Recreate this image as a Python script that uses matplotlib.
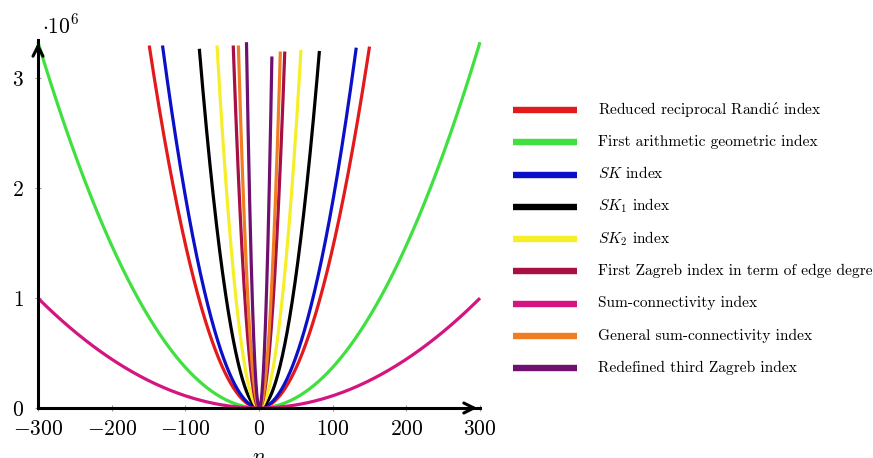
import numpy as np
import matplotlib
matplotlib.use("Agg")
import matplotlib.pyplot as plt
from matplotlib.lines import Line2D

plt.rcParams['font.family'] = ['cmr10', 'DejaVu Serif']
plt.rcParams['mathtext.fontset'] = 'cm'
plt.rcParams['axes.unicode_minus'] = False

# index names and colours, in legend order
labels = [r"Reduced reciprocal Randi$\acute{\mathrm{c}}$ index",
          "First arithmetic geometric index",
          r"$SK$ index",
          r"$SK_1$ index",
          r"$SK_2$ index",
          "First Zagreb index in term of edge degree",
          "Sum-connectivity index",
          "General sum-connectivity index",
          "Redefined third Zagreb index"]
colors = ["#e31a1c", "#3fe03f", "#0b10c8", "#000000", "#f7ee2a",
          "#a70f45", "#d5157f", "#f07d22", "#6e106f"]

# curve end points: n and value (x 10^6)
left_n = [-149, -300, -131, -81, -57, -35, -300, -28, -17]
left_v = [3.30, 3.33, 3.30, 3.27, 3.30, 3.30, 1.00, 3.30, 3.33]
right_n = [150, 300, 132, 82, 57, 35, 300, 29, 17.5]
right_v = [3.29, 3.33, 3.28, 3.25, 3.26, 3.245, 1.00, 3.245, 3.20]

xticks = [-300, -200, -100, 0, 100, 200, 300]
yticks = [0, 1, 2, 3]

W, H = 873, 458
fig = plt.figure(figsize=(W/100, H/100), dpi=100)
ax = fig.add_axes([38/W, 50/H, 442/W, 368/H])

for i in range(len(labels)):
    xl, yl, xr, yr = left_n[i], left_v[i], right_n[i], right_v[i]
    # parabola through the origin and both end points
    a = (yl/xl - yr/xr) / (xl - xr)
    b = yl/xl - a*xl
    n = np.linspace(xl, xr, 400)
    ax.plot(n, a*n**2 + b*n, color=colors[i], lw=2.3, clip_on=False,
            solid_capstyle='butt')

ax.set_xlim(-300, 300)
ax.set_ylim(0, 3.35)
for s in ['top', 'right']:
    ax.spines[s].set_visible(False)
for s in ['left', 'bottom']:
    ax.spines[s].set_linewidth(2.2)
    ax.spines[s].set_zorder(5)
ax.annotate('', xy=(1.0, 0), xytext=(0.97, 0), xycoords='axes fraction',
            arrowprops=dict(arrowstyle='->', lw=2.2, color='black',
                            mutation_scale=18), annotation_clip=False)
ax.annotate('', xy=(0, 1.0), xytext=(0, 0.96), xycoords='axes fraction',
            arrowprops=dict(arrowstyle='->', lw=2.2, color='black',
                            mutation_scale=18), annotation_clip=False)

ax.set_xticks(xticks)
ax.set_xticklabels([f"${v}$" for v in xticks])
ax.set_yticks(yticks)
ax.set_yticklabels([f"${v}$" for v in yticks])
ax.tick_params(axis='both', direction='inout', length=4, width=0.8,
               color='#999999', labelsize=15.5)
ax.tick_params(axis='x', pad=6)
ax.tick_params(axis='y', pad=8)

fig.text(42/W, 1 - 33/H, r"$\cdot 10^6$", fontsize=15.5, va='baseline')
fig.text(259/W, 1 - 447/H, r"$n$", fontsize=15.5, ha='center', va='top')

# legend drawn row by row so the spacing stays even
row0, step = 110, 32.25
for i in range(len(labels)):
    y = row0 + i*step
    fig.add_artist(Line2D([513/W, 577/W], [1 - y/H, 1 - y/H],
                          transform=fig.transFigure, color=colors[i],
                          lw=4.6, solid_capstyle='butt'))
    fig.text(598/W, 1 - (y + 4)/H, labels[i], fontsize=11.1, va='baseline')

fig.savefig("out.png", dpi=100)
